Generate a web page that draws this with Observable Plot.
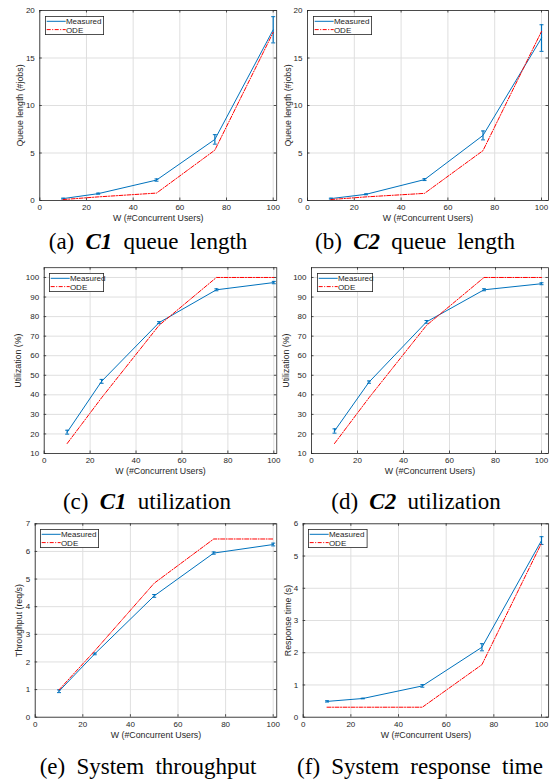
<!DOCTYPE html>
<html><head><meta charset="utf-8">
<script src="https://cdn.jsdelivr.net/npm/d3@7"></script>
<script src="https://cdn.jsdelivr.net/npm/@observablehq/plot@0.6"></script>
<style>
body{margin:0;background:#fff;}
#root{position:relative;width:552px;height:783px;overflow:hidden;background:#fff;}
.cell{position:absolute;overflow:visible;}
.cell svg{overflow:visible;max-width:none;background:transparent;display:block;}
.cap{position:absolute;font-family:"Liberation Serif","Times New Roman",serif;font-size:23px;white-space:nowrap;color:#000;word-spacing:5.5px;transform:translateX(-50%);line-height:1;}
.leg{position:absolute;}
</style></head><body><div id="root"></div>
<script>
// ---------- data ----------
const W = [10, 25, 50, 75, 100];
const xTicks = [0, 20, 40, 60, 80, 100];
const queueTicks = [0, 5, 10, 15, 20];
const utilTicks = [10, 20, 30, 40, 50, 60, 70, 80, 90, 100];
const tputTicks = [0, 1, 2, 3, 4, 5, 6, 7];
const respTicks = [0, 1, 2, 3, 4, 5, 6];

const c1QueueMeasured = [0.2, 0.72, 2.15, 6.43, 17.97];
const c1QueueErr      = [0.05, 0.06, 0.12, 0.5, 1.38];
const c1QueueODE      = [0.1, 0.38, 0.78, 5.3, 17.7];

const c2QueueMeasured = [0.2, 0.65, 2.2, 6.85, 17.1];
const c2QueueErr      = [0.05, 0.05, 0.1, 0.47, 1.4];
const c2QueueODE      = [0.1, 0.38, 0.75, 5.25, 17.8];

const c1UtilMeasured = [20.9, 46.9, 76.9, 93.7, 97.4];
const c1UtilErr      = [1.0, 1.0, 0.5, 0.5, 0.6];
const c1UtilODE      = [15.1, 38.5, 75.5, 100, 100];

const c2UtilMeasured = [21.5, 46.5, 77.3, 93.7, 96.8];
const c2UtilErr      = [1.1, 0.6, 0.7, 0.5, 0.5];
const c2UtilODE      = [15.1, 38.5, 75.5, 100, 100];

const tputMeasured = [0.94, 2.29, 4.39, 5.94, 6.25];
const tputErr      = [0.05, 0.03, 0.05, 0.04, 0.05];
const tputODE      = [0.99, 2.4, 4.85, 6.45, 6.45];

const respMeasured = [0.49, 0.58, 0.97, 2.17, 5.48];
const respErr      = [0.02, 0.01, 0.04, 0.11, 0.12];
const respODE      = [0.31, 0.31, 0.31, 1.63, 5.4];

const xLabel = "W (#Concurrent Users)";
const seriesNames = ["Measured", "ODE"];

// ---------- style ----------
const BLUE = "#0072BD", RED = "#ff0000", AX = "#262626", GRID = "#dfdfdf";
const DASH = "4,1.5,1,1.5";
const FONT = "'Liberation Sans', Arial, Helvetica, sans-serif";

const capSymbol = {draw(ctx, size) { const w = Math.sqrt(size / Math.PI); ctx.moveTo(-w, 0); ctx.lineTo(w, 0); }};

const panels = [
  {left: 0,   top: 0,   w: 277, h: 260, x0: 39.3, x100: 272.7, xmax: 101.5, yTop: 10, yBottom: 200, yDomain: [0, 20], yTicks: queueTicks,
   m: c1QueueMeasured, e: c1QueueErr, o: c1QueueODE, ylabel: "Queue length (#jobs)", ydx: -19.3, legW: 59,
   cap: "(a) <b><i>C1</i></b> queue length", capX: 148, capBase: 249},
  {left: 276, top: 0,   w: 276, h: 260, x0: 31, x100: 265, xmax: 103, yTop: 10, yBottom: 200, yDomain: [0, 20], yTicks: queueTicks,
   m: c2QueueMeasured, e: c2QueueErr, o: c2QueueODE, ylabel: "Queue length (#jobs)", ydx: -19.3, legW: 59,
   cap: "(b) <b><i>C2</i></b> queue length", capX: 415, capBase: 249},
  {left: 0,   top: 260, w: 277, h: 260, x0: 43.7, x100: 273.3, xmax: 101.3, yTop: 7.2, yBottom: 193, yDomain: [10, 105], yTicks: utilTicks,
   m: c1UtilMeasured, e: c1UtilErr, o: c1UtilODE, ylabel: "Utilization (%)", ydx: -25.7, legW: 55,
   cap: "(c) <b><i>C1</i></b> utilization", capX: 147, capBase: 509},
  {left: 276, top: 260, w: 276, h: 260, x0: 35, x100: 265, xmax: 103, yTop: 7.2, yBottom: 193, yDomain: [10, 105], yTicks: utilTicks,
   m: c2UtilMeasured, e: c2UtilErr, o: c2UtilODE, ylabel: "Utilization (%)", ydx: -25, legW: 56,
   cap: "(d) <b><i>C2</i></b> utilization", capX: 416, capBase: 509},
  {left: 0,   top: 520, w: 277, h: 263, x0: 34.7, x100: 272.7, xmax: 101.5, yTop: 3.3, yBottom: 196.7, yDomain: [0, 7], yTicks: tputTicks,
   m: tputMeasured, e: tputErr, o: tputODE, ylabel: "Throughput (req/s)", ydx: -15.7, legW: 59,
   cap: "(e) System throughput", capX: 148, capBase: 774},
  {left: 276, top: 520, w: 276, h: 263, x0: 26.7, x100: 265, xmax: 103, yTop: 3.3, yBottom: 196.7, yDomain: [0, 6], yTicks: respTicks,
   m: respMeasured, e: respErr, o: respODE, ylabel: "Response time (s)", ydx: -15, legW: 59.5,
   cap: "(f) System response time", capX: 420, capBase: 774}
];

const root = document.getElementById("root");

function legendSVG(width, height) {
  const ns = "http://www.w3.org/2000/svg";
  const svg = document.createElementNS(ns, "svg");
  svg.setAttribute("width", width); svg.setAttribute("height", height);
  svg.style.overflow = "visible";
  const add = (tag, attrs, txt) => { const el = document.createElementNS(ns, tag); for (const k in attrs) el.setAttribute(k, attrs[k]); if (txt) el.textContent = txt; svg.appendChild(el); return el; };
  add("rect", {x: 0.4, y: 0.4, width: width - 0.8, height: height - 0.8, fill: "#fff", stroke: AX, "stroke-width": 0.8});
  const rows = [5.3, 13.6];
  const styles = [{stroke: BLUE}, {stroke: RED, "stroke-dasharray": DASH}];
  seriesNames.forEach((name, i) => {
    add("line", {x1: 1.7, x2: 20.7, y1: rows[i], y2: rows[i], "stroke-width": 1, ...styles[i]});
    add("text", {x: 20.9, y: rows[i] + 2.9, "font-family": FONT, "font-size": 8, fill: AX}, name);
  });
  return svg;
}

for (const p of panels) {
  const ppu = (p.x100 - p.x0) / 100;
  const right = p.x0 + p.xmax * ppu;
  const innerW = right - p.x0, innerH = p.yBottom - p.yTop;
  const rows = W.map((w, i) => ({w, m: p.m[i], lo: p.m[i] - p.e[i], hi: p.m[i] + p.e[i], o: p.o[i]}));
  const chart = Plot.plot({
    width: p.w, height: p.h,
    marginLeft: p.x0, marginRight: p.w - right, marginTop: p.yTop, marginBottom: p.h - p.yBottom,
    x: {domain: [0, p.xmax], axis: null},
    y: {domain: p.yDomain, axis: null},
    style: {background: "transparent", overflow: "visible", maxWidth: "none", fontFamily: FONT, color: AX},
    marks: [
      Plot.gridX({ticks: xTicks, stroke: GRID, strokeOpacity: 1, strokeWidth: 1}),
      Plot.gridY({ticks: p.yTicks, stroke: GRID, strokeOpacity: 1, strokeWidth: 1}),
      Plot.tickX(xTicks, {x: d => d, insetTop: innerH - 2.5, stroke: AX, strokeWidth: 0.8}),
      Plot.tickX(xTicks, {x: d => d, insetBottom: innerH - 2.5, stroke: AX, strokeWidth: 0.8}),
      Plot.tickY(p.yTicks, {y: d => d, insetRight: innerW - 2.5, stroke: AX, strokeWidth: 0.8}),
      Plot.tickY(p.yTicks, {y: d => d, insetLeft: innerW - 2.5, stroke: AX, strokeWidth: 0.8}),
      Plot.axisX({ticks: xTicks, tickSize: 0, tickPadding: 4, fontSize: 8, label: null, tickFormat: d => String(d)}),
      Plot.axisY({ticks: p.yTicks, tickSize: 0, tickPadding: 5, fontSize: 8, label: null, tickFormat: d => String(d)}),
      Plot.text([xLabel], {frameAnchor: "bottom", dy: 17.5, fontSize: 8.8, lineAnchor: "middle", fill: AX}),
      Plot.text([p.ylabel], {frameAnchor: "left", dx: p.ydx, rotate: -90, fontSize: 8.8, lineAnchor: "middle", textAnchor: "middle", fill: AX}),
      Plot.line(rows, {x: "w", y: "m", stroke: BLUE, strokeWidth: 1}),
      Plot.ruleX(rows, {x: "w", y1: "lo", y2: "hi", stroke: BLUE, strokeWidth: 1.2}),
      Plot.dot(rows, {x: "w", y: "lo", symbol: capSymbol, r: 2, stroke: BLUE, strokeWidth: 1}),
      Plot.dot(rows, {x: "w", y: "hi", symbol: capSymbol, r: 2, stroke: BLUE, strokeWidth: 1}),
      Plot.line(rows, {x: "w", y: "o", stroke: RED, strokeWidth: 1, strokeDasharray: DASH}),
      Plot.frame({stroke: AX, strokeWidth: 0.8})
    ]
  });
  const cell = document.createElement("div");
  cell.className = "cell";
  Object.assign(cell.style, {left: p.left + "px", top: p.top + "px", width: p.w + "px", height: p.h + "px"});
  cell.appendChild(chart);
  const leg = document.createElement("div");
  leg.className = "leg";
  Object.assign(leg.style, {left: (p.x0 + 5.7) + "px", top: (p.yTop + 5.5) + "px"});
  leg.appendChild(legendSVG(p.legW, 19));
  cell.appendChild(leg);
  root.appendChild(cell);

  const cap = document.createElement("div");
  cap.className = "cap";
  cap.innerHTML = p.cap;
  Object.assign(cap.style, {left: p.capX + "px", top: (p.capBase - 19.3) + "px"});
  root.appendChild(cap);
}
</script>
</body></html>
